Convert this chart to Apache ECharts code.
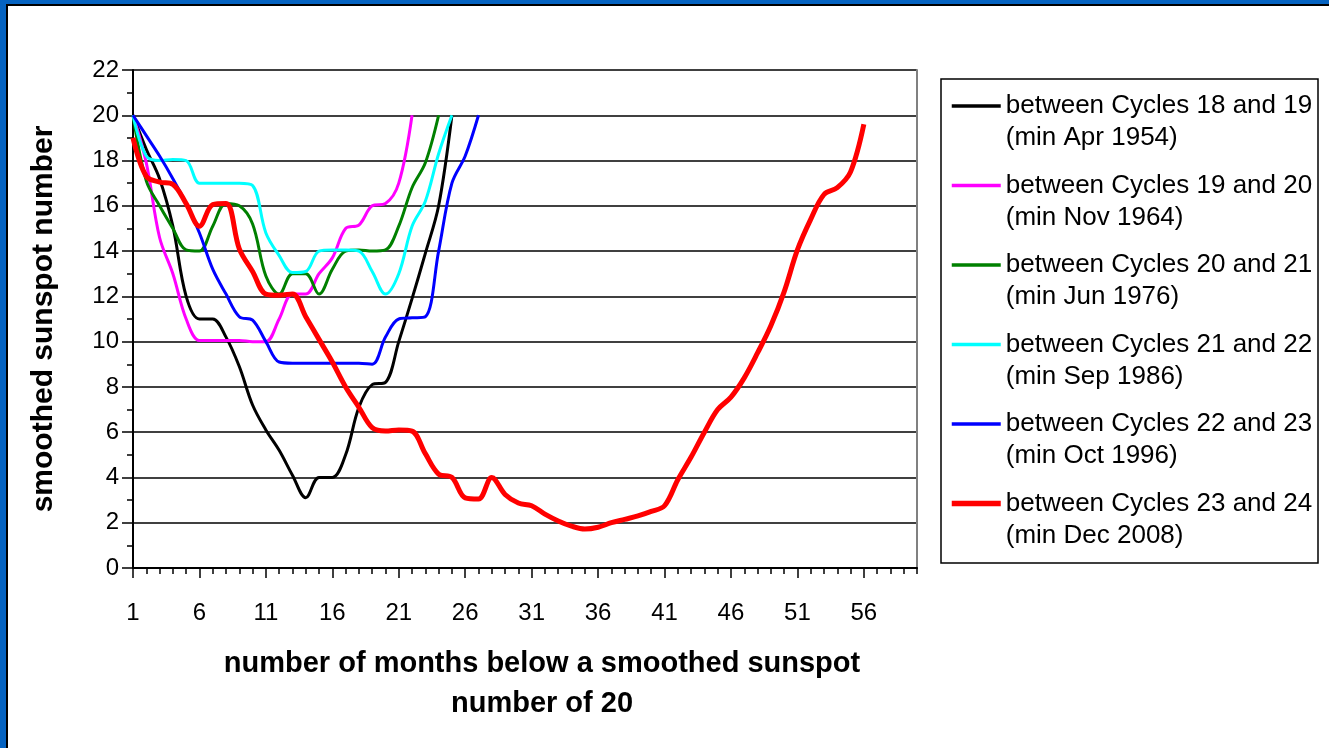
<!DOCTYPE html>
<html lang="en">
<head>
<meta charset="UTF-8"/>
<title>sunspot minima</title>
<script src="https://cdn.jsdelivr.net/npm/echarts@6/dist/echarts.min.js"></script>
<style>
    html, body { margin: 0; padding: 0; background: #fff; }
    #main { width: 1329px; height: 748px; }
</style>
</head>
<body>
<div id="main"></div>
<script>
// months below SSN 20
var months = ['1','2','3','4','5','6','7','8','9','10','11','12','13','14','15','16','17','18','19','20',
    '21','22','23','24','25','26','27','28','29','30','31','32','33','34','35','36','37','38','39','40',
    '41','42','43','44','45','46','47','48','49','50','51','52','53','54','55','56','57','58','59','60'];

// smoothed sunspot number, one value per month
var c18_19 = [20, 18.5, 17.2, 15.1, 12.0, 11.0, 11.0, 10.2, 8.9, 7.2, 6.1, 5.2, 4.1, 3.1, 4.0, 4.0, 5.0, 7.1, 8.1, 8.2,
    10.0, 11.9, 13.9, 16.0, 20.0];
var c19_20 = [20, 17.9, 14.6, 13.0, 11.0, 10.05, 10.05, 10.05, 10.05, 10.0, 10.0, 11.0, 12.1, 12.1, 13.0, 13.7, 15.0, 15.15, 16.0, 16.1,
    17.0, 20.0];
var c20_21 = [20, 17.1, 16.0, 15.0, 14.05, 14.0, 15.1, 16.1, 16.0, 15.2, 12.9, 12.1, 13.0, 13.0, 12.1, 13.2, 14.0, 14.05, 14.0, 14.05,
    15.1, 16.8, 17.9, 20.0];
var c21_22 = [20, 18.2, 18.0, 18.05, 18.0, 17.0, 17.0, 17.0, 17.0, 16.9, 14.8, 13.8, 13.05, 13.1, 14.0, 14.05, 14.05, 14.0, 13.1, 12.1,
    13.0, 15.1, 16.2, 18.3, 20.0];
var c22_23 = [20, 19.1, 18.2, 17.2, 16.1, 14.8, 13.2, 12.1, 11.1, 10.95, 10.0, 9.1, 9.05, 9.05, 9.05, 9.05, 9.05, 9.05, 9.0, 10.2,
    11.0, 11.05, 11.1, 14.0, 17.0, 18.2, 20.0];
var c23_24 = [19.0, 17.3, 17.05, 16.95, 16.1, 15.1, 16.05, 16.1, 14.1, 13.1, 12.1, 12.05, 12.1, 11.1, 10.1, 9.1, 8.0, 7.1, 6.2, 6.05,
    6.1, 6.05, 5.05, 4.15, 4.0, 3.1, 3.05, 4.0, 3.25, 2.87, 2.75, 2.38, 2.08, 1.85, 1.72, 1.8, 2.0, 2.15, 2.3, 2.5,
    2.75, 3.9, 4.9, 6.0, 7.0, 7.55, 8.4, 9.5, 10.7, 12.2, 14.05, 15.4, 16.5, 16.8, 17.5, 19.6];

var seriesNames = ['between Cycles 18 and 19', 'between Cycles 19 and 20', 'between Cycles 20 and 21',
    'between Cycles 21 and 22', 'between Cycles 22 and 23', 'between Cycles 23 and 24'];
var minima = ['(min Apr 1954)', '(min Nov 1964)', '(min Jun 1976)', '(min Sep 1986)', '(min Oct 1996)', '(min Dec 2008)'];
var colors = ['#000000', '#ff00ff', '#008000', '#00ffff', '#0000ff', '#ff0000'];
var widths = [3, 3, 3, 3, 3, 5];
var allData = [c18_19, c19_20, c20_21, c21_22, c22_23, c23_24];

var font = 'Liberation Sans, Arial, sans-serif';
var myChart = echarts.init(document.getElementById('main'));

var series = allData.map(function (d, i) {
    return {
        name: seriesNames[i],
        type: 'line',
        data: d,
        smooth: 0.35,
        showSymbol: false,
        symbol: 'none',
        color: colors[i],
        lineStyle: { color: colors[i], width: widths[i] },
        z: i === 5 ? 3 : 2
    };
});

// legend entries: line only, a bit thicker than the plot lines
var legendData = seriesNames.map(function (n, i) {
    return { name: n, lineStyle: { width: i === 5 ? 5.5 : 3.5 } };
});

var option = {
    animation: false,
    backgroundColor: '#fff',
    grid: { left: 133, top: 70, right: 412, bottom: 180, containLabel: false },
    legend: {
        orient: 'vertical',
        left: 949,
        top: 58,
        padding: 0,
        itemWidth: 49,
        itemHeight: 6,
        itemGap: -16.5,
        selectedMode: false,
        data: legendData,
        itemStyle: { opacity: 0 },
        textStyle: { fontFamily: font, fontSize: 26, lineHeight: 32, color: '#000' },
        formatter: function (name) {
            return '\n' + name + '\n' + minima[seriesNames.indexOf(name)];
        }
    },
    xAxis: [
        {
            type: 'category',
            data: months,
            boundaryGap: false,
            axisLine: { lineStyle: { color: '#000', width: 2 } },
            axisTick: { show: true, interval: 0, length: 6, lineStyle: { color: '#000', width: 1.5 } },
            axisLabel: { interval: 4, margin: 33, fontFamily: font, fontSize: 24, color: '#000' },
            splitLine: { show: false }
        },
        {
            type: 'category',
            data: months,
            boundaryGap: false,
            position: 'bottom',
            axisLine: { show: false },
            axisTick: { show: true, interval: 4, length: 10, lineStyle: { color: '#000', width: 1.5 } },
            axisLabel: { show: false },
            splitLine: { show: false }
        }
    ],
    yAxis: [
        {
            type: 'value',
            min: 0,
            max: 22,
            interval: 2,
            name: 'smoothed sunspot number',
            nameLocation: 'middle',
            nameRotate: 90,
            nameGap: 74,
            nameTextStyle: { fontFamily: font, fontSize: 30, fontWeight: 'bold', color: '#000' },
            axisLine: { show: true, lineStyle: { color: '#000', width: 2 } },
            axisTick: { show: true, length: 11, lineStyle: { color: '#000', width: 1.5 } },
            minorTick: { show: true, splitNumber: 2, length: 6, lineStyle: { color: '#000', width: 1.5 } },
            axisLabel: { margin: 14, fontFamily: font, fontSize: 24, color: '#000' },
            splitLine: { show: true, lineStyle: { color: '#000', width: 1.5 } }
        },
        {
            type: 'value',
            min: 0,
            max: 22,
            position: 'right',
            axisLine: { show: true, lineStyle: { color: '#808080', width: 2 } },
            axisTick: { show: false },
            axisLabel: { show: false },
            splitLine: { show: false }
        }
    ],
    graphic: [
        // slide frame
        { type: 'rect', shape: { x: 0, y: 0, width: 1329, height: 4 }, style: { fill: '#0563c1' }, silent: true },
        { type: 'rect', shape: { x: 0, y: 0, width: 6, height: 748 }, style: { fill: '#0563c1' }, silent: true },
        { type: 'rect', shape: { x: 6, y: 4, width: 1323, height: 2 }, style: { fill: '#000' }, silent: true },
        { type: 'rect', shape: { x: 6, y: 4, width: 2, height: 744 }, style: { fill: '#000' }, silent: true },
        // legend box
        { type: 'rect', shape: { x: 941, y: 79, width: 377, height: 484 },
          style: { fill: 'none', stroke: '#000', lineWidth: 1.5 }, silent: true },
        // x axis title
        { type: 'text', x: 542, y: 644,
          style: { text: 'number of months below a smoothed sunspot\nnumber of 20', textAlign: 'center',
                   fontFamily: font, fontSize: 29, fontWeight: 'bold', lineHeight: 40, fill: '#000' } }
    ],
    series: series
};

myChart.setOption(option);
</script>
</body>
</html>
